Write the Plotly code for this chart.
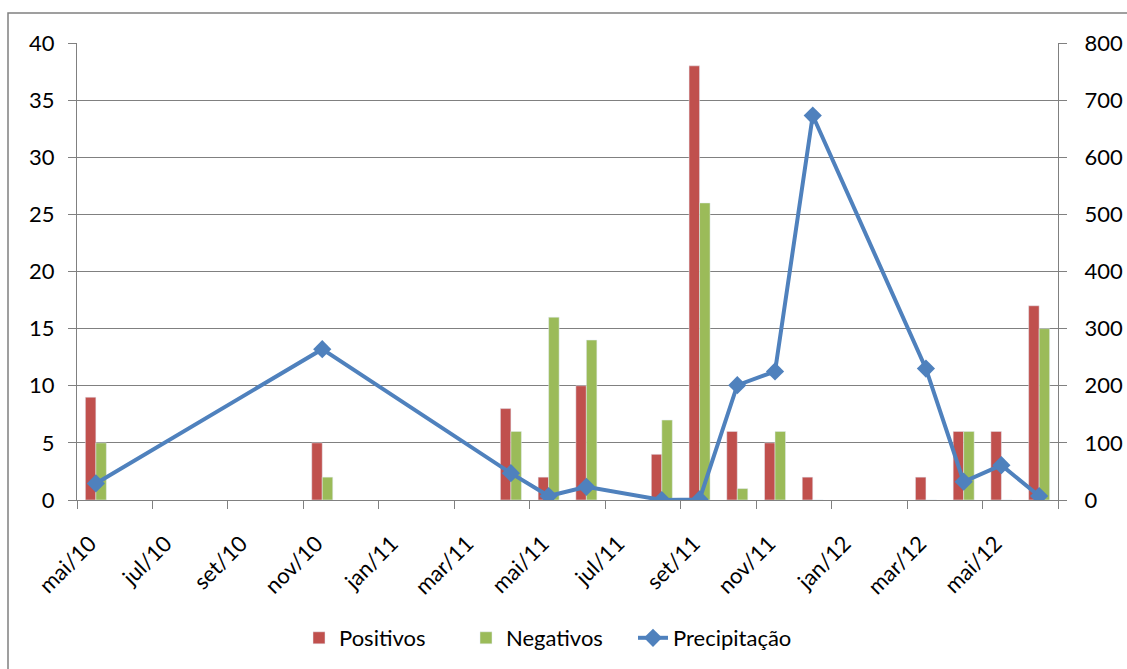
import plotly.graph_objects as go

# ---- data ----
all_months = ["mai/10", "jun/10", "jul/10", "ago/10", "set/10", "out/10", "nov/10", "dez/10",
              "jan/11", "fev/11", "mar/11", "abr/11", "mai/11", "jun/11", "jul/11", "ago/11",
              "set/11", "out/11", "nov/11", "dez/11", "jan/12", "fev/12", "mar/12", "abr/12",
              "mai/12", "jun/12"]
data_months = ["mai/10", "nov/10", "abr/11", "mai/11", "jun/11", "ago/11", "set/11", "out/11",
               "nov/11", "dez/11", "mar/12", "abr/12", "mai/12", "jun/12"]
positivos = [9, 5, 8, 2, 10, 4, 38, 6, 5, 2, 2, 6, 6, 17]
negativos = [5, 2, 6, 16, 14, 7, 26, 1, 6, 0, 0, 6, 0, 15]
precipitacao = [29, 264, 47, 7, 23, 0, 1, 201, 225, 673, 230, 32, 61, 7]
tick_labels = all_months[::2]

# month-based positions (Excel date axis, base unit = month)
xpos = [all_months.index(m) + 0.5 for m in data_months]
tickvals = [all_months.index(m) for m in tick_labels] + [len(all_months)]
ticktext = tick_labels + [""]

RED = "#C0504D"
GREEN = "#9BBB59"
BLUE = "#4F81BD"
GRAY = "#808080"
FONT = "Lato"
FS = 22

W, H = 1127, 669
L, R, T, B = 77, 1127 - 1058, 43, 669 - 500
pw, ph = W - L - R, H - T - B

fig = go.Figure()
fig.add_trace(go.Bar(x=xpos, y=positivos, name="Positivos", marker_color=RED,
                     yaxis="y"))
fig.add_trace(go.Bar(x=xpos, y=negativos, name="Negativos", marker_color=GREEN,
                     yaxis="y"))
fig.add_trace(go.Scatter(x=xpos, y=precipitacao, name="Precipitação", mode="lines+markers",
                         line=dict(color=BLUE, width=4),
                         marker=dict(symbol="diamond", size=14, color=BLUE),
                         yaxis="y2"))

def px_x(p):
    return (p - L) / pw

def px_y(p):
    return (H - B - p) / ph

fig.update_layout(
    width=W, height=H,
    margin=dict(l=L, r=R, t=T, b=B, pad=0, autoexpand=False),
    paper_bgcolor="white", plot_bgcolor="white",
    font=dict(family=FONT, size=FS, color="black"),
    barmode="group", bargap=0.443, bargroupgap=0,
    showlegend=True,
    legend=dict(orientation="h", x=px_x(299), xanchor="left", y=px_y(638), yanchor="middle",
                font=dict(family=FONT, size=FS), traceorder="normal",
                itemwidth=30, entrywidth=122, entrywidthmode="pixels"),
    xaxis=dict(range=[0, len(all_months)], tickmode="array", tickvals=tickvals, ticktext=ticktext,
               tickangle=-45, ticks="outside", ticklen=8, tickcolor=GRAY, tickwidth=1,
               showline=True, linecolor=GRAY, linewidth=1, showgrid=False, zeroline=False,
               automargin=False,
               ticklabelshift=13, ticklabelstandoff=13, tickfont=dict(family=FONT, size=FS)),
    yaxis=dict(range=[0, 40], dtick=5, tick0=0, ticks="outside", ticklen=8, tickcolor=GRAY,
               showline=True, linecolor=GRAY, linewidth=1, showgrid=True, gridcolor=GRAY,
               gridwidth=1, zeroline=False, ticklabelstandoff=9, automargin=False,
               tickfont=dict(family=FONT, size=FS)),
    yaxis2=dict(range=[0, 800], dtick=100, tick0=0, overlaying="y", side="right",
                ticks="outside", ticklen=8, tickcolor=GRAY, showline=True, linecolor=GRAY,
                linewidth=1, showgrid=False, zeroline=False, ticklabelstandoff=13,
                automargin=False, tickfont=dict(family=FONT, size=FS)),
    shapes=[dict(type="rect", xref="paper", yref="paper",
                 x0=px_x(8), x1=px_x(W + 20), y0=px_y(13), y1=px_y(H + 20),
                 line=dict(color=GRAY, width=1.5), fillcolor="rgba(0,0,0,0)", layer="below")],
)

fig.write_html("out.html", config={"displayModeBar": False},
               post_script="document.body.style.margin='0';document.body.style.overflow='hidden';")
